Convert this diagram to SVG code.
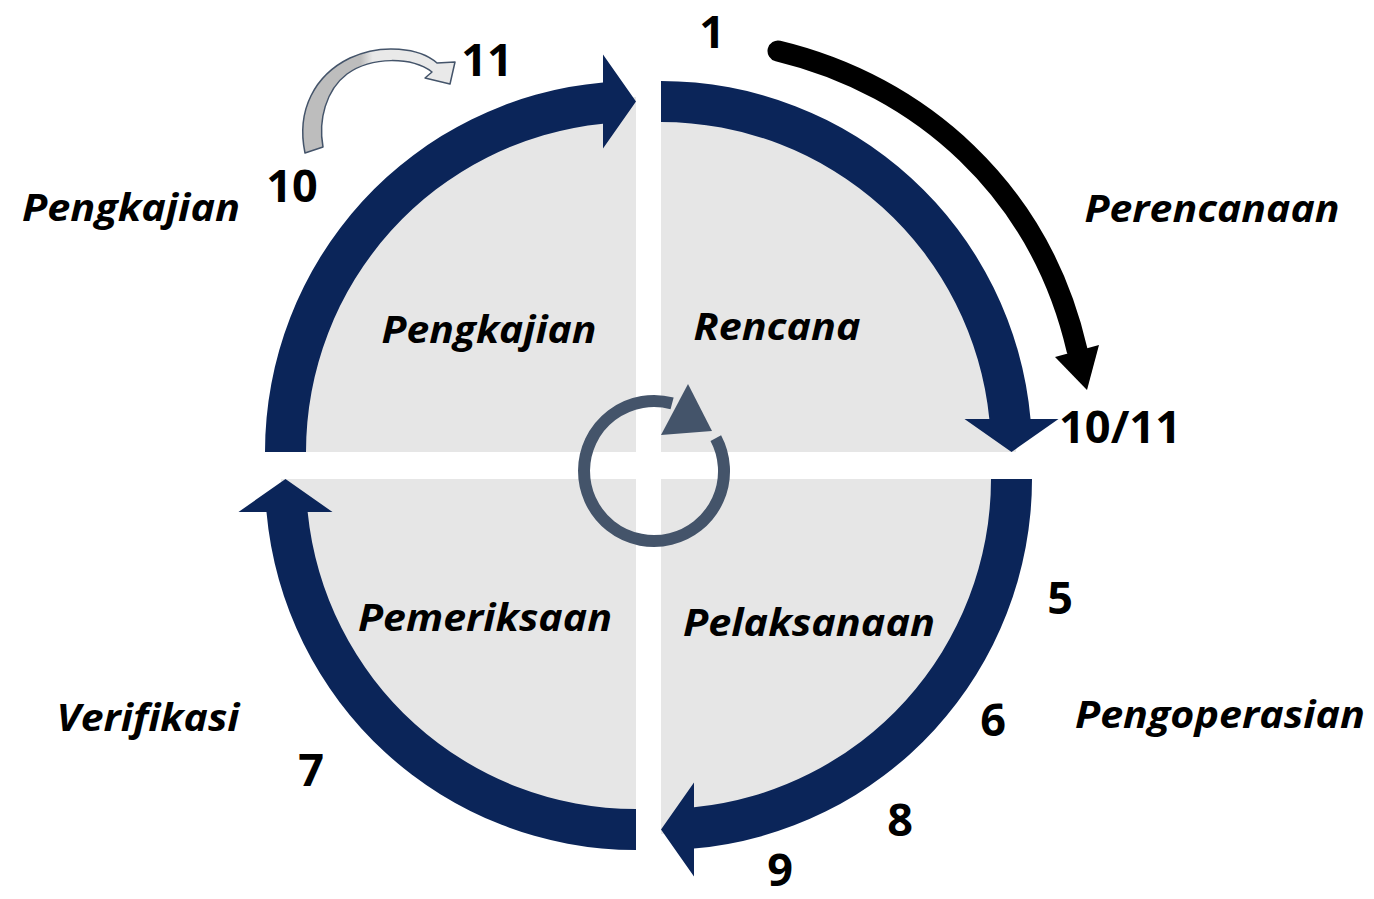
<svg xmlns="http://www.w3.org/2000/svg" width="1374" height="899" viewBox="0 0 1374 899">
  <style>
    .quad { fill: #E6E6E6; }
    .ring { fill: #0B2559; }
    .lbl { font-family: "Open Sans", "Noto Sans", sans-serif; font-weight: 700; font-style: italic; font-size: 37px; fill: #000; text-anchor: middle; }
    .num { font-family: "Open Sans", "Noto Sans", sans-serif; font-weight: 700; font-size: 45px; fill: #000; text-anchor: middle; }
  </style>
  <defs>
    <path id="quarter" d="M0,0 L-355,0 A355,355 0 0 1 0,-355 Z"/>
    <path id="ringarrow" d="M-371,0 A371,371 0 0 1 -33,-369.53 L-33,-397.5 L0,-350.5 L-33,-303.5 L-33,-328.35 A330,330 0 0 0 -330,0 Z"/>
    <linearGradient id="twist" x1="0" y1="0" x2="1" y2="0">
      <stop offset="0" stop-color="#BDBDBD"/>
      <stop offset="0.38" stop-color="#BDBDBD"/>
      <stop offset="0.46" stop-color="#E9E9E9"/>
      <stop offset="1" stop-color="#E9E9E9"/>
    </linearGradient>
  </defs>
  <rect width="1374" height="899" fill="#FFFFFF"/>

  <g id="quadrant-pengkajian">
    <use href="#quarter" class="quad" transform="translate(636,452)"/>
    <use href="#ringarrow" class="ring" transform="translate(636,452)"/>
    <text class="lbl" x="489" y="343" textLength="215" lengthAdjust="spacingAndGlyphs">Pengkajian</text>
  </g>
  <g id="quadrant-rencana">
    <use href="#quarter" class="quad" transform="translate(661,452) rotate(90)"/>
    <use href="#ringarrow" class="ring" transform="translate(661,452) rotate(90)"/>
    <text class="lbl" x="777" y="340" textLength="167" lengthAdjust="spacingAndGlyphs">Rencana</text>
  </g>
  <g id="quadrant-pelaksanaan">
    <use href="#quarter" class="quad" transform="translate(661,479) rotate(180)"/>
    <use href="#ringarrow" class="ring" transform="translate(661,479) rotate(180)"/>
    <text class="lbl" x="809" y="636" textLength="252" lengthAdjust="spacingAndGlyphs">Pelaksanaan</text>
  </g>
  <g id="quadrant-pemeriksaan">
    <use href="#quarter" class="quad" transform="translate(636,479) rotate(270)"/>
    <use href="#ringarrow" class="ring" transform="translate(636,479) rotate(270)"/>
    <text class="lbl" x="485" y="631" textLength="254" lengthAdjust="spacingAndGlyphs">Pemeriksaan</text>
  </g>

  <g id="cycle-icon">
    <path d="M715.8,438.1 A70,70 0 1 1 672.1,403.4" fill="none" stroke="#44546A" stroke-width="12"/>
    <polygon points="688,384 712,431 661,435" fill="#44546A"/>
  </g>

  <g id="connectors">
    <path id="arrow-perencanaan" d="M778,51 C920,85 1040,190 1077,350" fill="none" stroke="#000" stroke-width="21" stroke-linecap="round"/>
    <polygon points="1055,357 1099,345 1087,390" fill="#000"/>
    <path id="arrow-10-11" d="M305,153 C296,110 315,75 350,58 C382,43 420,48 437,63 L455,62 L450,84 L425,78 L432,72 C412,57 372,56 347,74 C326,90 318,120 323,147 Z" fill="url(#twist)" stroke="#44546A" stroke-width="1.5" stroke-linejoin="round"/>
  </g>

  <g id="labels">
    <text class="lbl" x="131" y="221" textLength="218" lengthAdjust="spacingAndGlyphs">Pengkajian</text>
    <text class="lbl" x="1212" y="222" textLength="255" lengthAdjust="spacingAndGlyphs">Perencanaan</text>
    <text class="lbl" x="1220" y="728" textLength="290" lengthAdjust="spacingAndGlyphs">Pengoperasian</text>
    <text class="lbl" x="148" y="731" textLength="183" lengthAdjust="spacingAndGlyphs">Verifikasi</text>
    <text class="num" x="712" y="48">1</text>
    <text class="num" x="487" y="76">11</text>
    <text class="num" x="292" y="202">10</text>
    <text class="num" x="1120" y="443" textLength="122" lengthAdjust="spacingAndGlyphs">10/11</text>
    <text class="num" x="1060" y="614">5</text>
    <text class="num" x="993" y="736">6</text>
    <text class="num" x="900" y="836">8</text>
    <text class="num" x="780" y="886">9</text>
    <text class="num" x="311" y="786">7</text>
  </g>
</svg>
